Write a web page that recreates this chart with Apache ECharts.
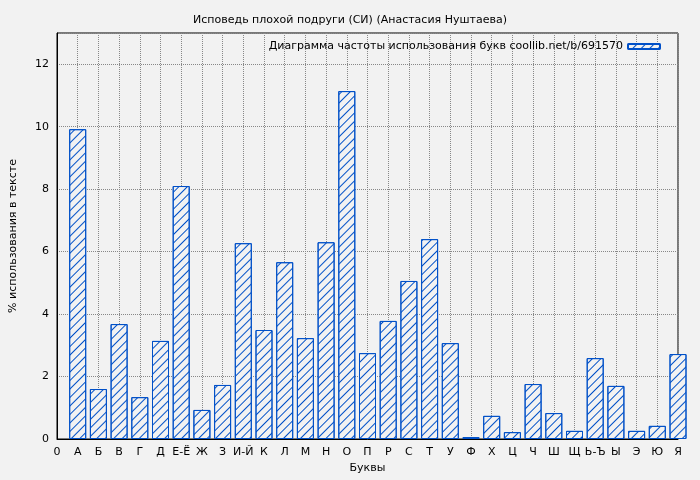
<!DOCTYPE html>
<html><head><meta charset="utf-8">
<script src="https://cdn.jsdelivr.net/npm/echarts@6/dist/echarts.min.js"></script>
<style>html,body{margin:0;background:#f2f2f2}#main{width:700px;height:480px}</style>
</head><body><div id="main"></div>
<script>
var letters = ['0', 'А', 'Б', 'В', 'Г', 'Д', 'Е-Ё', 'Ж', 'З', 'И-Й', 'К', 'Л', 'М', 'Н', 'О', 'П', 'Р', 'С', 'Т', 'У', 'Ф', 'Х', 'Ц', 'Ч', 'Ш', 'Щ', 'Ь-Ъ', 'Ы', 'Э', 'Ю', 'Я'];
var freq = [null, 9.92, 1.6, 3.68, 1.34, 3.14, 8.1, 0.93, 1.73, 6.27, 3.49, 5.66, 3.23, 6.3, 11.14, 2.75, 3.78, 5.06, 6.4, 3.07, 0.06, 0.74, 0.22, 1.76, 0.83, 0.26, 2.59, 1.7, 0.26, 0.42, 2.72];
var yTicks = [0, 2, 4, 6, 8, 10, 12];

var myChart = echarts.init(document.getElementById('main'));
var font = 'DejaVu Sans';
var option = {
  backgroundColor: '#f2f2f2',
  aria: { enabled: true, decal: { show: true } },
  title: {
    text: 'Исповедь плохой подруги (СИ) (Анастасия Нуштаева)',
    left: 'center', top: 10,
    textStyle: { fontSize: 11, fontWeight: 'normal', color: '#000', fontFamily: font }
  },
  legend: {
    right: 34, top: 36, itemWidth: 32, itemHeight: 5, align: 'right',
    textStyle: { fontSize: 11, color: '#000', fontFamily: font },
    data: ['Диаграмма частоты использования букв coollib.net/b/691570']
  },
  grid: { left: 53, right: 22, top: 33, bottom: 41, show: true, borderColor: '#000', borderWidth: 1, backgroundColor: '#f2f2f2' },
  xAxis: {
    type: 'category', data: letters, boundaryGap: false,
    name: 'Буквы', nameLocation: 'middle', nameGap: 24,
    nameTextStyle: { fontSize: 11, fontFamily: font, color: '#000' },
    axisLine: { lineStyle: { color: '#000' } },
    axisTick: { show: false },
    axisLabel: { fontSize: 11, fontFamily: font, color: '#000', interval: 0 },
    splitLine: { show: true, interval: 0, lineStyle: { color: '#888', type: 'dotted' } }
  },
  yAxis: {
    type: 'value', min: 0, max: 13, interval: 2,
    name: '% использования в тексте', nameLocation: 'middle', nameGap: 38,
    nameTextStyle: { fontSize: 11, fontFamily: font, color: '#000' },
    axisLine: { show: true, lineStyle: { color: '#000' } },
    axisTick: { show: false },
    axisLabel: { fontSize: 11, fontFamily: font, color: '#000',
      formatter: function (v) { return yTicks.indexOf(v) >= 0 ? v : ''; } },
    splitLine: { lineStyle: { color: '#888', type: 'dotted' } }
  },
  series: [{
    name: 'Диаграмма частоты использования букв coollib.net/b/691570',
    type: 'bar', data: freq, barWidth: 17,
    itemStyle: {
      color: '#f2f2f2', borderColor: '#0050c8', borderWidth: 1,
      decal: { symbol: 'rect', color: '#0050c8', dashArrayX: [1, 0], dashArrayY: [1, 5], rotation: -Math.PI / 4, symbolSize: 1 }
    }
  }]
};
myChart.setOption(option);
</script></body></html>
